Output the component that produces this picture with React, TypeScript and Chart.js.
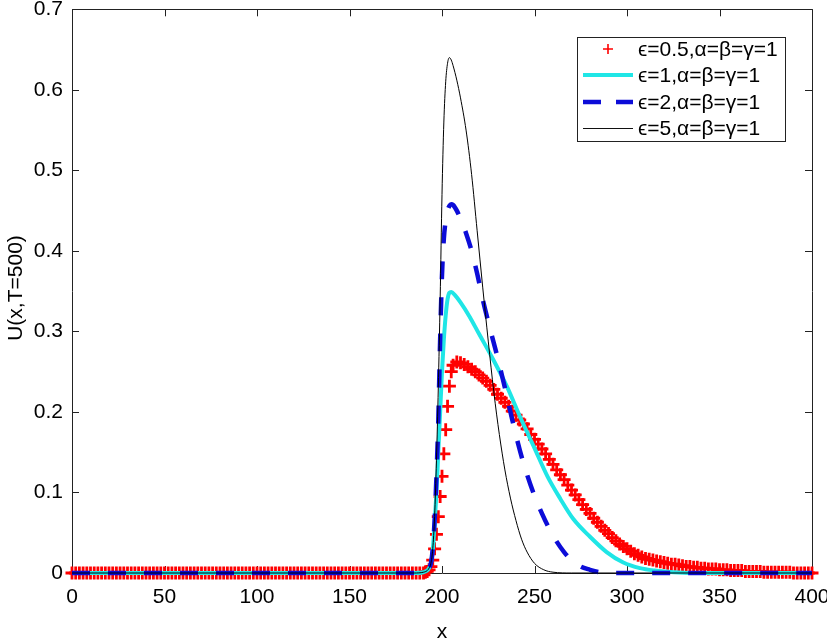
import React, { useEffect, useRef } from "react";
import { Chart, registerables } from "chart.js";

Chart.register(...registerables);

// ---------- data ----------
const xTickValues = [0, 50, 100, 150, 200, 250, 300, 350, 400];
const xTickLabels = ["0", "50", "100", "150", "200", "250", "300", "350", "400"];
const yTickValues = [0, 0.1, 0.2, 0.3, 0.4, 0.5, 0.6, 0.7];
const yTickLabels = ["0", "0.1", "0.2", "0.3", "0.4", "0.5", "0.6", "0.7"];
const xTitle = "x";
const yTitle = "U(x,T=500)";
const seriesLabels = [
  "\u03f5=0.5,\u03b1=\u03b2=\u03b3=1",
  "\u03f5=1,\u03b1=\u03b2=\u03b3=1",
  "\u03f5=2,\u03b1=\u03b2=\u03b3=1",
  "\u03f5=5,\u03b1=\u03b2=\u03b3=1",
];

// eps = 0.5 (red markers)
const redX = [
  0, 2, 4, 6, 8, 10, 12, 14, 16, 18, 20, 22, 24, 26, 28, 30, 32, 34, 36, 38,
  40, 42, 44, 46, 48, 50, 52, 54, 56, 58, 60, 62, 64, 66, 68, 70, 72, 74, 76, 78,
  80, 82, 84, 86, 88, 90, 92, 94, 96, 98, 100, 102, 104, 106, 108, 110, 112, 114, 116, 118,
  120, 122, 124, 126, 128, 130, 132, 134, 136, 138, 140, 142, 144, 146, 148, 150, 152, 154, 156, 158,
  160, 162, 164, 166, 168, 170, 172, 174, 176, 178, 180, 182, 184, 186, 188, 190,
  191, 192, 193, 194, 195, 196, 197, 198, 199, 200, 201, 202, 203, 204, 205, 206,
  208, 210, 212, 214, 216, 218, 220, 222, 224, 226, 228, 230, 232, 234, 236, 238, 240, 242, 244, 246,
  248, 250, 252, 254, 256, 258, 260, 262, 264, 266, 268, 270, 272, 274, 276, 278, 280, 282, 284, 286,
  288, 290, 292, 294, 296, 298, 300, 302, 304, 306, 308, 310, 312, 314, 316, 318, 320, 322, 324, 326,
  328, 330, 332, 334, 336, 338, 340, 342, 344, 346, 348, 350, 352, 354, 356, 358, 360, 362, 364, 366,
  368, 370, 372, 374, 376, 378, 380, 382, 384, 386, 388, 390, 392, 394, 396, 398, 400,
];
const redY = [
  0, 0, 0, 0, 0, 0, 0, 0, 0, 0, 0, 0, 0, 0, 0, 0, 0, 0, 0, 0,
  0, 0, 0, 0, 0, 0, 0, 0, 0, 0, 0, 0, 0, 0, 0, 0, 0, 0, 0, 0,
  0, 0, 0, 0, 0, 0, 0, 0, 0, 0, 0, 0, 0, 0, 0, 0, 0, 0, 0, 0,
  0, 0, 0, 0, 0, 0, 0, 0, 0, 0, 0, 0, 0, 0, 0, 0, 0, 0, 0, 0,
  0, 0, 0, 0, 0, 0, 0, 0, 0, 0, 0, 0, 0, 0, 0, 0,
  0.001, 0.002, 0.004, 0.008, 0.016, 0.03, 0.048, 0.07, 0.095, 0.12, 0.148, 0.178, 0.207, 0.232, 0.25, 0.258,
  0.262, 0.261, 0.259, 0.256, 0.253, 0.25, 0.246, 0.242, 0.238, 0.233, 0.228, 0.222, 0.217, 0.212, 0.207, 0.201, 0.196, 0.19, 0.185, 0.179,
  0.172, 0.166, 0.16, 0.154, 0.148, 0.141, 0.135, 0.128, 0.122, 0.116, 0.109, 0.103, 0.097, 0.091, 0.085, 0.079, 0.074, 0.068, 0.063, 0.058,
  0.053, 0.049, 0.044, 0.04, 0.036, 0.033, 0.03, 0.027, 0.024, 0.022, 0.02, 0.018, 0.017, 0.016, 0.015, 0.014, 0.013, 0.012, 0.011, 0.011,
  0.01, 0.009, 0.008, 0.008, 0.007, 0.007, 0.006, 0.006, 0.005, 0.005, 0.005, 0.004, 0.004, 0.004, 0.003, 0.003, 0.003, 0.003, 0.002, 0.002,
  0.002, 0.002, 0.002, 0.001, 0.001, 0.001, 0.001, 0.001, 0.001, 0.001, 0.001, 0, 0, 0, 0, 0, 0,
];

// eps = 1 (cyan)
const cyanX = [0, 185, 190, 192, 193, 194, 195, 196, 197, 198, 199, 200, 201, 202, 203, 204, 205, 207, 210, 215, 220, 227, 235, 242, 250, 257, 264, 271, 280, 289, 298, 307, 315, 325, 335, 400];
const cyanY = [0, 0, 0.001, 0.003, 0.006, 0.012, 0.028, 0.06, 0.1, 0.15, 0.2, 0.25, 0.29, 0.32, 0.34, 0.348, 0.349, 0.345, 0.336, 0.318, 0.297, 0.268, 0.232, 0.195, 0.155, 0.12, 0.092, 0.067, 0.045, 0.026, 0.013, 0.006, 0.003, 0.001, 0, 0];

// eps = 2 (blue dashed)
const blueX = [0, 185, 190, 192, 193, 194, 195, 196, 197, 198, 199, 200, 201, 202, 203, 204, 205, 206, 207, 208, 210, 213, 216, 219, 222, 226, 230, 234, 238, 242, 246, 250, 254, 258, 262, 266, 270, 275, 280, 285, 290, 400];
const blueY = [0, 0, 0.001, 0.003, 0.006, 0.012, 0.03, 0.065, 0.12, 0.19, 0.29, 0.37, 0.415, 0.438, 0.45, 0.456, 0.458, 0.457, 0.454, 0.45, 0.44, 0.422, 0.4, 0.372, 0.34, 0.303, 0.268, 0.23, 0.19, 0.153, 0.122, 0.096, 0.074, 0.055, 0.039, 0.026, 0.016, 0.008, 0.004, 0.001, 0, 0];

// eps = 5 (black thin)
const blackX = [0, 185, 190, 192, 193, 194, 195, 196, 197, 198, 199, 200, 201, 202, 203, 204, 205, 206, 208, 210, 213, 216, 219, 222, 225, 228, 231, 234, 237, 240, 243, 246, 250, 255, 260, 270, 400];
const blackY = [0, 0, 0.001, 0.003, 0.006, 0.012, 0.03, 0.07, 0.14, 0.23, 0.34, 0.47, 0.56, 0.61, 0.633, 0.64, 0.637, 0.63, 0.612, 0.59, 0.55, 0.495, 0.425, 0.355, 0.288, 0.225, 0.172, 0.128, 0.093, 0.065, 0.042, 0.026, 0.012, 0.004, 0.001, 0, 0];

// ---------- styling ----------
const FONT = "'Liberation Sans', Arial, Helvetica, sans-serif";
const RED = "#ff0000";
const CYAN = "#1fe6e6";
const BLUE = "#0c0cd8";
const BLACK = "#000000";

function pts(xs: number[], ys: number[]) {
  return xs.map((x, i) => ({ x, y: ys[i] }));
}

const frameTicksPlugin = {
  id: "frameTicks",
  beforeDatasetsDraw(chart: any) {
    const { ctx, chartArea } = chart;
    const { left, right, top, bottom } = chartArea;
    const xs = chart.scales.x;
    const ys = chart.scales.y;
    ctx.save();
    ctx.strokeStyle = "#222";
    ctx.lineWidth = 1;
    ctx.beginPath();
    ctx.rect(Math.round(left) + 0.5, Math.round(top) + 0.5, Math.round(right - left), Math.round(bottom - top));
    ctx.stroke();
    const tl = 7;
    ctx.beginPath();
    xTickValues.forEach((v) => {
      const px = Math.round(xs.getPixelForValue(v)) + 0.5;
      ctx.moveTo(px, bottom);
      ctx.lineTo(px, bottom - tl);
      ctx.moveTo(px, top);
      ctx.lineTo(px, top + tl);
    });
    yTickValues.forEach((v) => {
      const py = Math.round(ys.getPixelForValue(v)) + 0.5;
      ctx.moveTo(left, py);
      ctx.lineTo(left + tl, py);
      ctx.moveTo(right, py);
      ctx.lineTo(right - tl, py);
    });
    ctx.stroke();
    ctx.restore();
  },
};

const titlesLegendPlugin = {
  id: "titlesLegend",
  afterDraw(chart: any) {
    const { ctx, chartArea } = chart;
    ctx.save();
    ctx.fillStyle = "#000";
    ctx.font = `21px ${FONT}`;
    ctx.textAlign = "center";
    ctx.textBaseline = "middle";
    ctx.fillText(xTitle, (chartArea.left + chartArea.right) / 2, 632);
    ctx.save();
    ctx.translate(16, 288);
    ctx.rotate(-Math.PI / 2);
    ctx.fillText(yTitle, 0, 0);
    ctx.restore();

    // legend box
    const bx = 577, by = 37, bw = 208, bh = 104;
    ctx.fillStyle = "#fff";
    ctx.fillRect(bx, by, bw, bh);
    ctx.strokeStyle = "#222";
    ctx.lineWidth = 1;
    ctx.strokeRect(bx + 0.5, by + 0.5, bw, bh);
    const rows = [49, 75, 102, 128];
    const x0 = 583, x1 = 633;
    ctx.font = `21px ${FONT}`;
    ctx.textAlign = "left";
    ctx.textBaseline = "middle";
    rows.forEach((ry, i) => {
      ctx.save();
      if (i === 0) {
        ctx.strokeStyle = RED;
        ctx.lineWidth = 1.6;
        ctx.beginPath();
        ctx.moveTo(608 - 5, ry);
        ctx.lineTo(608 + 5, ry);
        ctx.moveTo(608, ry - 5);
        ctx.lineTo(608, ry + 5);
        ctx.stroke();
      } else if (i === 1) {
        ctx.strokeStyle = CYAN;
        ctx.lineWidth = 4;
        ctx.beginPath();
        ctx.moveTo(x0, ry);
        ctx.lineTo(x1, ry);
        ctx.stroke();
      } else if (i === 2) {
        ctx.strokeStyle = BLUE;
        ctx.lineWidth = 4.5;
        ctx.setLineDash([18, 15]);
        ctx.beginPath();
        ctx.moveTo(x0, ry);
        ctx.lineTo(x1, ry);
        ctx.stroke();
      } else {
        ctx.strokeStyle = "#111";
        ctx.lineWidth = 1;
        ctx.beginPath();
        ctx.moveTo(x0, ry + 0.5);
        ctx.lineTo(x1, ry + 0.5);
        ctx.stroke();
      }
      ctx.restore();
      ctx.fillStyle = "#000";
      ctx.fillText(seriesLabels[i], 638, ry + 1);
    });
    ctx.restore();
  },
};

export default function App() {
  const ref = useRef<HTMLCanvasElement | null>(null);
  useEffect(() => {
    if (!ref.current) return;
    const tickFont = { family: FONT, size: 21 };
    const chart = new Chart(ref.current, {
      type: "scatter",
      data: {
        datasets: [
          {
            label: seriesLabels[0],
            data: pts(redX, redY),
            showLine: false,
            pointStyle: "cross",
            pointRadius: 6.5,
            pointBorderWidth: 2.8,
            pointBorderColor: RED,
            pointBackgroundColor: RED,
            borderColor: RED,
            order: 4,
            clip: false,
          },
          {
            label: seriesLabels[1],
            data: pts(cyanX, cyanY),
            showLine: true,
            pointRadius: 0,
            borderWidth: 4,
            borderColor: CYAN,
            cubicInterpolationMode: "monotone",
            order: 3,
            clip: false,
          },
          {
            label: seriesLabels[2],
            data: pts(blueX, blueY),
            showLine: true,
            pointRadius: 0,
            borderWidth: 4.5,
            borderColor: BLUE,
            borderDash: [18, 18],
            borderCapStyle: "butt",
            cubicInterpolationMode: "monotone",
            order: 2,
            clip: false,
          },
          {
            label: seriesLabels[3],
            data: pts(blackX, blackY),
            showLine: true,
            pointRadius: 0,
            borderWidth: 1,
            borderColor: BLACK,
            cubicInterpolationMode: "monotone",
            order: 1,
            clip: false,
          },
        ],
      } as any,
      options: {
        responsive: false,
        animation: false,
        devicePixelRatio: 1,
        layout: { padding: { left: 0, top: 8, right: 15, bottom: 0 } },
        plugins: { legend: { display: false }, tooltip: { enabled: false } },
        scales: {
          x: {
            type: "linear",
            min: 0,
            max: 400,
            grid: { display: false, drawTicks: false },
            border: { display: false },
            afterBuildTicks: (s: any) => {
              s.ticks = xTickValues.map((v) => ({ value: v }));
            },
            afterFit: (s: any) => {
              s.height = 70;
              s.paddingLeft = 0;
              s.paddingRight = 0;
            },
            ticks: {
              font: tickFont,
              color: "#000",
              padding: 12,
              maxRotation: 0,
              autoSkip: false,
              callback: (_v: any, i: number) => xTickLabels[i],
            },
          },
          y: {
            type: "linear",
            min: 0,
            max: 0.7,
            grid: { display: false, drawTicks: false },
            border: { display: false },
            afterBuildTicks: (s: any) => {
              s.ticks = yTickValues.map((v) => ({ value: v }));
            },
            afterFit: (s: any) => {
              s.width = 72;
              s.paddingTop = 0;
              s.paddingBottom = 0;
            },
            ticks: {
              font: tickFont,
              color: "#000",
              padding: 9,
              autoSkip: false,
              callback: (_v: any, i: number) => yTickLabels[i],
            },
          },
        },
      } as any,
      plugins: [frameTicksPlugin, titlesLegendPlugin],
    });
    return () => chart.destroy();
  }, []);
  return (
    <div style={{ position: "absolute", left: 0, top: 0, width: 827, height: 643, background: "#fff" }}>
      <canvas ref={ref} width={827} height={643} style={{ display: "block", width: 827, height: 643 }} />
    </div>
  );
}
